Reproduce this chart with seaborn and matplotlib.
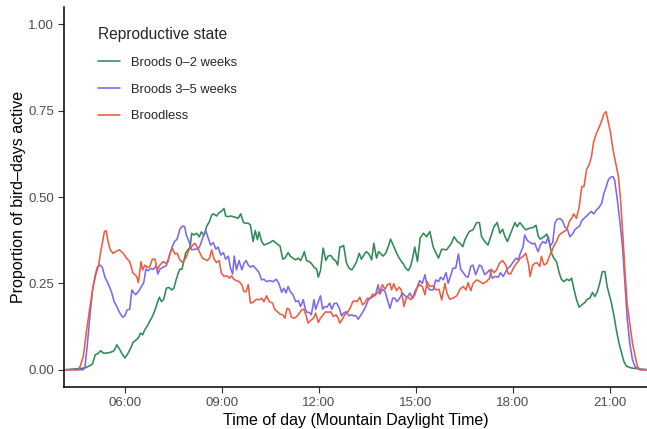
import matplotlib
matplotlib.use("Agg")
import matplotlib.pyplot as plt
import pandas as pd
import seaborn as sns

# minutes after midnight (MDT) and proportion of bird-days active
green_min = [250, 286, 295, 300, 305, 311, 315, 320, 326, 332, 338, 341, 345, 350, 354, 360,
             366, 371, 375, 380, 385, 389, 393, 397, 401, 406, 411, 416, 420, 424, 428, 432,
             437, 442, 447, 451, 455, 459, 462, 466, 470, 473, 478, 481, 484, 488, 493, 498,
             502, 507, 512, 517, 521, 525, 530, 535, 539, 544, 547, 552, 556, 561, 566, 570,
             575, 580, 585, 589, 593, 598, 602, 606, 609, 614, 618, 623, 629,
             635, 641, 648, 653, 657, 663, 667, 672, 677, 682, 686, 690, 693, 697, 702, 706,
             711, 716, 719, 723, 728, 733, 737, 742, 747, 751, 755, 759, 764, 766, 771, 776,
             781, 785, 790, 795, 799, 804, 808, 813, 818, 822, 827, 831, 834, 839, 844, 849,
             853, 858, 863, 867, 872, 877, 881, 886, 890, 894, 898, 903, 906,
             908, 914, 920, 926, 932, 942, 948, 957, 966, 971, 977, 982, 987, 991, 999, 1006,
             1013, 1018, 1022, 1028, 1034, 1039, 1045, 1051, 1056, 1061, 1065, 1070, 1076, 1084,
             1088, 1093, 1099, 1104, 1110, 1118, 1123, 1127, 1131, 1138, 1143, 1148, 1152, 1156,
             1161, 1166, 1170, 1175, 1180, 1185, 1189, 1193, 1198, 1203, 1208, 1214, 1218, 1223,
             1228, 1232, 1237, 1242, 1246, 1251, 1255, 1259, 1263, 1268, 1272, 1277, 1282, 1286,
             1291, 1300, 1329]
green_prop = [0.0, 0.005, 0.012, 0.017, 0.043, 0.048, 0.055, 0.048, 0.048, 0.05, 0.053, 0.058,
              0.072, 0.06, 0.048, 0.034, 0.048, 0.063, 0.079, 0.085, 0.092, 0.106, 0.101, 0.116,
              0.125, 0.14, 0.154, 0.173, 0.193, 0.21, 0.197, 0.204, 0.236, 0.238, 0.231, 0.236,
              0.26, 0.279, 0.291, 0.291, 0.318, 0.339, 0.349, 0.355, 0.395, 0.39, 0.395, 0.385,
              0.399, 0.389, 0.416, 0.429, 0.448, 0.451, 0.445, 0.455, 0.458, 0.467, 0.445, 0.443,
              0.445, 0.443, 0.441, 0.438, 0.451, 0.426, 0.424, 0.424, 0.419, 0.371, 0.403, 0.376,
              0.399, 0.371, 0.361, 0.364, 0.368,
              0.374, 0.366, 0.358, 0.32, 0.323, 0.339, 0.329, 0.323, 0.318, 0.323, 0.316, 0.329,
              0.342, 0.316, 0.313, 0.308, 0.297, 0.291, 0.268, 0.287, 0.352, 0.316, 0.329, 0.331,
              0.32, 0.316, 0.303, 0.355, 0.357, 0.36, 0.31, 0.294, 0.289, 0.298, 0.313, 0.337,
              0.32, 0.333, 0.342, 0.335, 0.318, 0.366, 0.323, 0.342, 0.337, 0.329, 0.337, 0.357,
              0.378, 0.361, 0.342, 0.329, 0.316, 0.306, 0.294, 0.287, 0.298, 0.323, 0.355, 0.313,
              0.355,
              0.381, 0.395, 0.385, 0.4, 0.356, 0.323, 0.349, 0.347, 0.366, 0.385, 0.371, 0.366,
              0.356, 0.376, 0.4, 0.405, 0.426, 0.426, 0.385, 0.371, 0.361, 0.385, 0.414, 0.426,
              0.395, 0.407, 0.387, 0.371, 0.395, 0.426, 0.414, 0.426, 0.414, 0.405, 0.409, 0.412,
              0.418, 0.387, 0.378, 0.385, 0.393, 0.366, 0.337, 0.323, 0.313, 0.281, 0.262, 0.255,
              0.262, 0.258, 0.265, 0.236, 0.204, 0.181, 0.188, 0.195, 0.204, 0.207, 0.224, 0.212,
              0.226, 0.255, 0.284, 0.284, 0.241, 0.217, 0.193, 0.154, 0.116, 0.077, 0.048, 0.024,
              0.01, 0.005, 0.0]

purple_min = [250, 283, 286, 290, 295, 300, 305, 309, 314, 318, 323, 329, 335, 340, 345, 350,
              356, 360, 364, 369, 373, 377, 380, 385, 390, 395, 399, 403, 408, 413, 418, 421,
              425, 431, 437, 442, 447, 452, 457, 462, 467, 471, 474, 479, 484, 490, 496, 500,
              505, 510, 515, 519, 524, 529, 533, 538, 543, 547, 552, 556, 560, 563, 567, 572,
              577, 581, 585, 589, 593, 598, 604, 609, 614, 618, 623, 629,
              635, 641, 646, 651, 655, 659, 663, 667, 672, 677, 682, 686, 691, 695, 698, 702,
              706, 711, 714, 719, 723, 727, 731, 735, 740, 744, 748, 753, 758, 762, 766, 771,
              776, 781, 785, 789, 793, 797, 802, 807, 812, 816, 821, 826, 830, 833, 838, 843,
              847, 852, 857, 861, 865, 870, 875, 880, 884, 889, 894, 898, 903, 907,
              912, 917, 921, 926, 932, 937, 942, 946, 951, 956, 960, 964, 969, 974, 979, 983,
              988, 993, 997, 1002, 1006, 1011, 1018, 1022, 1028, 1032, 1037, 1042, 1047, 1053,
              1057, 1062, 1067, 1071, 1076, 1081, 1086, 1090, 1094, 1099, 1102, 1107, 1112, 1117,
              1121, 1124, 1127, 1131, 1136, 1141, 1146, 1149, 1154, 1158, 1162, 1167, 1172, 1177,
              1181, 1186, 1191, 1195, 1200, 1204, 1208, 1212, 1217, 1222, 1226, 1230, 1235, 1240,
              1245, 1249, 1253, 1257, 1261, 1266, 1269, 1274, 1279, 1284, 1288, 1292, 1297, 1302,
              1307, 1316, 1329]
purple_prop = [0.0, 0.0, 0.01, 0.067, 0.154, 0.231, 0.275, 0.297, 0.303, 0.297, 0.268, 0.249,
               0.226, 0.197, 0.183, 0.166, 0.152, 0.156, 0.173, 0.175, 0.231, 0.222, 0.217, 0.226,
               0.239, 0.252, 0.291, 0.287, 0.293, 0.291, 0.301, 0.277, 0.291, 0.297, 0.301, 0.328,
               0.352, 0.371, 0.378, 0.407, 0.416, 0.414, 0.39, 0.371, 0.347, 0.349, 0.349, 0.361,
               0.385, 0.403, 0.38, 0.361, 0.368, 0.349, 0.355, 0.332, 0.339, 0.32, 0.329, 0.294,
               0.277, 0.329, 0.289, 0.316, 0.289, 0.308, 0.316, 0.303, 0.297, 0.301, 0.291, 0.281,
               0.26, 0.262, 0.255, 0.258,
               0.255, 0.262, 0.249, 0.224, 0.236, 0.222, 0.241, 0.226, 0.217, 0.197, 0.2, 0.183,
               0.203, 0.175, 0.166, 0.166, 0.159, 0.203, 0.175, 0.197, 0.214, 0.175, 0.183, 0.181,
               0.193, 0.175, 0.191, 0.193, 0.178, 0.156, 0.164, 0.168, 0.156, 0.159, 0.156, 0.156,
               0.146, 0.156, 0.168, 0.183, 0.203, 0.207, 0.212, 0.222, 0.246, 0.219, 0.233, 0.226,
               0.203, 0.178, 0.207, 0.207, 0.197, 0.207, 0.222, 0.214, 0.21, 0.222, 0.207, 0.226,
               0.241, 0.258,
               0.25, 0.275, 0.241, 0.231, 0.231, 0.26, 0.255, 0.268, 0.26, 0.281, 0.25, 0.27,
               0.294, 0.294, 0.335, 0.291, 0.281, 0.27, 0.268, 0.299, 0.303, 0.275, 0.303, 0.299,
               0.275, 0.281, 0.289, 0.265, 0.27, 0.268, 0.281, 0.27, 0.284, 0.294, 0.301, 0.313,
               0.323, 0.318, 0.337, 0.356, 0.39, 0.374, 0.368, 0.364, 0.366, 0.352, 0.342, 0.361,
               0.371, 0.366, 0.385, 0.358, 0.368, 0.424, 0.435, 0.438, 0.432, 0.412, 0.407, 0.385,
               0.393, 0.405, 0.412, 0.416, 0.432, 0.438, 0.445, 0.453, 0.458, 0.451, 0.462, 0.47,
               0.482, 0.511, 0.528, 0.549, 0.557, 0.559, 0.549, 0.491, 0.424, 0.347, 0.25, 0.154,
               0.077, 0.029, 0.008, 0.0, 0.0]

red_min = [250, 273, 277, 283, 289, 295, 301, 306, 311, 315, 319, 322, 325, 329, 333, 338,
           343, 350, 357, 363, 369, 375, 382, 385, 390, 393, 397, 401, 406, 411, 416, 420,
           425, 431, 436, 440, 445, 448, 453, 457, 462, 467, 473, 479, 486, 490, 494, 499,
           504, 508, 513, 517, 521, 525, 530, 535, 539, 544, 549, 554, 558, 562, 567, 572,
           577, 581, 585, 589, 593, 598, 604, 609, 614, 618, 623, 628,
           634, 638, 643, 648, 653, 657, 661, 665, 669, 674, 679, 684, 688, 692, 696, 700,
           705, 710, 714, 719, 723, 728, 733, 737, 742, 747, 752, 756, 759, 764, 768, 773,
           778, 783, 787, 791, 796, 801, 805, 810, 815, 820, 824, 828, 833, 838, 843, 847,
           852, 855, 859, 864, 869, 873, 878, 882, 886, 890, 894, 898, 903, 907,
           912, 917, 921, 926, 932, 937, 943, 948, 954, 958, 963, 969, 976, 982, 988, 993,
           997, 1002, 1006, 1013, 1019, 1025, 1031, 1037, 1040, 1045, 1050, 1055, 1061, 1067,
           1071, 1076, 1081, 1086, 1090, 1094, 1099, 1104, 1109, 1112, 1117, 1121, 1125, 1130,
           1133, 1138, 1143, 1148, 1152, 1156, 1161, 1166, 1170, 1175, 1180, 1185, 1189, 1193,
           1198, 1203, 1208, 1212, 1217, 1222, 1226, 1230, 1235, 1240, 1245, 1249, 1253, 1257,
           1261, 1266, 1271, 1276, 1280, 1284, 1288, 1292, 1297, 1302, 1307, 1311, 1316, 1329]
red_prop = [0.0, 0.0, 0.01, 0.04, 0.115, 0.18, 0.24, 0.275, 0.3, 0.34, 0.375, 0.4, 0.403,
            0.37, 0.347, 0.337, 0.342, 0.347, 0.337, 0.323, 0.313, 0.28, 0.27, 0.252, 0.313,
            0.289, 0.303, 0.296, 0.298, 0.32, 0.32, 0.289, 0.303, 0.313, 0.308, 0.313, 0.342,
            0.352, 0.335, 0.337, 0.318, 0.31, 0.323, 0.347, 0.361, 0.366, 0.356, 0.339, 0.323,
            0.32, 0.316, 0.323, 0.347, 0.323, 0.31, 0.316, 0.28, 0.27, 0.272, 0.265, 0.272,
            0.262, 0.258, 0.255, 0.246, 0.226, 0.226, 0.246, 0.193, 0.195, 0.204, 0.202, 0.207,
            0.197, 0.214, 0.197,
            0.193, 0.175, 0.168, 0.161, 0.159, 0.149, 0.178, 0.175, 0.152, 0.149, 0.154, 0.164,
            0.173, 0.175, 0.159, 0.135, 0.143, 0.149, 0.164, 0.137, 0.149, 0.159, 0.168, 0.166,
            0.168, 0.154, 0.159, 0.149, 0.135, 0.147, 0.159, 0.166, 0.178, 0.197, 0.2, 0.197,
            0.21, 0.188, 0.193, 0.207, 0.207, 0.219, 0.214, 0.222, 0.226, 0.246, 0.233, 0.246,
            0.25, 0.231, 0.249, 0.229, 0.239, 0.231, 0.183, 0.207, 0.21, 0.203, 0.207, 0.217,
            0.239, 0.246,
            0.241, 0.217, 0.255, 0.241, 0.243, 0.231, 0.233, 0.202, 0.25, 0.22, 0.204, 0.207,
            0.214, 0.233, 0.241, 0.231, 0.252, 0.229, 0.249, 0.26, 0.255, 0.249, 0.255, 0.265,
            0.291, 0.281, 0.289, 0.308, 0.316, 0.303, 0.279, 0.277, 0.294, 0.306, 0.313, 0.323,
            0.328, 0.337, 0.306, 0.27, 0.303, 0.308, 0.31, 0.299, 0.328, 0.303, 0.308, 0.329,
            0.342, 0.358, 0.371, 0.39, 0.395, 0.4, 0.405, 0.429, 0.438, 0.451, 0.438, 0.47,
            0.53, 0.53, 0.58, 0.595, 0.617, 0.66, 0.684, 0.701, 0.721, 0.74, 0.747, 0.718,
            0.689, 0.636, 0.597, 0.559, 0.491, 0.395, 0.289, 0.193, 0.135, 0.077, 0.039, 0.01,
            0.0, 0.0]

states = ["Broods 0\u20132 weeks", "Broods 3\u20135 weeks", "Broodless"]
colors = ["#2E8B57", "#7B68EE", "#EE5C42"]

tick_minutes = [360, 540, 720, 900, 1080, 1260]
tick_labels = ["06:00", "09:00", "12:00", "15:00", "18:00", "21:00"]
y_ticks = [0, 0.25, 0.5, 0.75, 1.0]

frames = []
for state, mins, props in zip(states, [green_min, purple_min, red_min],
                              [green_prop, purple_prop, red_prop]):
    frames.append(pd.DataFrame({"minute": mins, "prop": props, "state": state}))
df = pd.concat(frames, ignore_index=True)

sns.set_style("ticks")
plt.rcParams["font.family"] = ["Liberation Sans", "DejaVu Sans"]

fig = plt.figure(figsize=(6.47, 4.29), dpi=100)
ax = fig.add_axes([64 / 647, 42 / 429, 583 / 647, 380 / 429])

sns.lineplot(data=df, x="minute", y="prop", hue="state", hue_order=states,
             palette=dict(zip(states, colors)), estimator=None, linewidth=1.15, ax=ax)

ax.set_xlim(247, 1329)
ax.set_ylim(-0.05, 1.05)
ax.set_xticks(tick_minutes)
ax.set_xticklabels(tick_labels)
ax.set_yticks(y_ticks)
ax.set_yticklabels([f"{v:.2f}" for v in y_ticks])

for side in ["top", "right"]:
    ax.spines[side].set_visible(False)
for side in ["left", "bottom"]:
    ax.spines[side].set_linewidth(1.1)
    ax.spines[side].set_color("black")

ax.tick_params(direction="out", length=4, width=0.8, color="#333333",
               labelcolor="#4D4D4D", labelsize=9.5, pad=3)
ax.set_xlabel("Time of day (Mountain Daylight Time)", fontsize=11.5, color="black", labelpad=3)
ax.set_ylabel("Proportion of bird\u2013days active", fontsize=11.5, color="black", labelpad=1.5)

handles, labels = ax.get_legend_handles_labels()
ax.legend(handles, labels, title="Reproductive state", loc="upper left",
          bbox_to_anchor=(0.059, 0.948), frameon=False, fontsize=9.3, title_fontsize=11.2,
          handlelength=1.7, handletextpad=0.8, labelspacing=1.15, alignment="left",
          borderpad=0, borderaxespad=0)

fig.savefig("out.png", dpi=100)
